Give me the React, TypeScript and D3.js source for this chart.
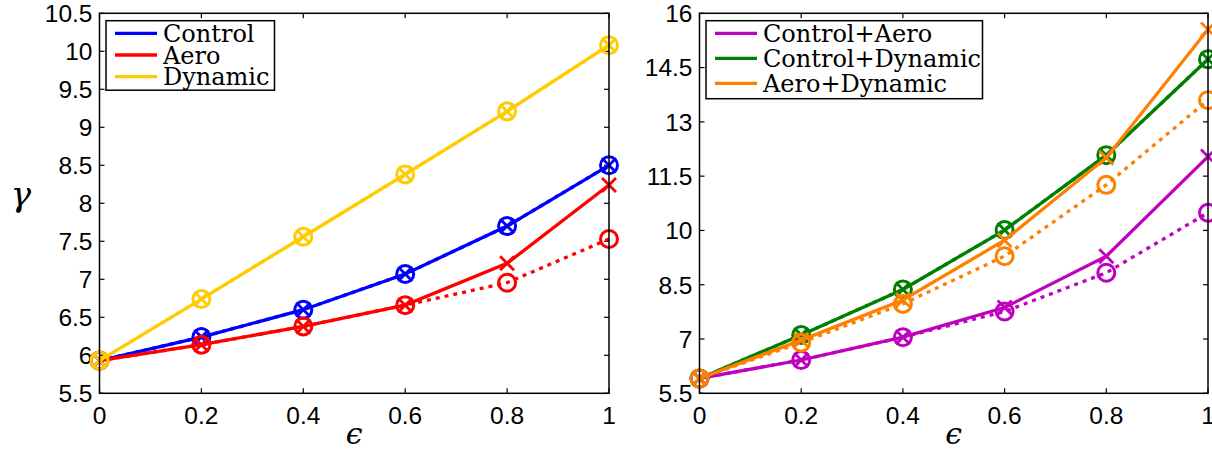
import React from "react";
import * as d3 from "d3";

// Shared x positions (epsilon)
const eps = [0, 0.2, 0.4, 0.6, 0.8, 1];

// Left panel: single effects
const controlVals = [5.93, 6.24, 6.6, 7.07, 7.7, 8.5];
const aeroVals = [5.93, 6.14, 6.38, 6.66, 7.21, 8.24];
const aeroDotted = [5.93, 6.14, 6.38, 6.66, 6.955, 7.53];
const dynamicVals = [5.93, 6.74, 7.56, 8.38, 9.21, 10.08];

// Right panel: combined effects
const ctrlAeroVals = [5.91, 6.42, 7.05, 7.87, 9.29, 12.04];
const ctrlAeroDotted = [5.91, 6.42, 7.05, 7.76, 8.83, 10.49];
const ctrlDynVals = [5.91, 7.11, 8.37, 10.01, 12.08, 14.73];
const ctrlDynDotted = [5.91, 7.11, 8.37, 10.01, 12.08, 14.73];
const aeroDynVals = [5.91, 6.97, 8.08, 9.73, 12.01, 15.55];
const aeroDynDotted = [5.91, 6.9, 7.97, 9.29, 11.26, 13.6];

const xTicks = [0, 0.2, 0.4, 0.6, 0.8, 1];
const xTickLabels = ["0", "0.2", "0.4", "0.6", "0.8", "1"];
const leftYTicks = [5.5, 6, 6.5, 7, 7.5, 8, 8.5, 9, 9.5, 10, 10.5];
const rightYTicks = [5.5, 7, 8.5, 10, 11.5, 13, 14.5, 16];

type Series = { name: string; color: string; solid: number[]; dotted: number[] };

const leftSeries: Series[] = [
  { name: "Control", color: "#0000ff", solid: controlVals, dotted: controlVals },
  { name: "Aero", color: "#ff0000", solid: aeroVals, dotted: aeroDotted },
  { name: "Dynamic", color: "#ffcc00", solid: dynamicVals, dotted: dynamicVals },
];

const rightSeries: Series[] = [
  { name: "Control+Aero", color: "#bf00bf", solid: ctrlAeroVals, dotted: ctrlAeroDotted },
  { name: "Control+Dynamic", color: "#008000", solid: ctrlDynVals, dotted: ctrlDynDotted },
  { name: "Aero+Dynamic", color: "#ff8000", solid: aeroDynVals, dotted: aeroDynDotted },
];

const TICK_FONT = "'Liberation Sans', Arial, sans-serif";
const SERIF = "'DejaVu Serif', serif";

type PanelProps = {
  x0: number;
  x1: number;
  y0: number;
  y1: number;
  yDomain: [number, number];
  yTicks: number[];
  series: Series[];
  legend: { x: number; y: number; w: number; h: number; rowH: number; firstY: number };
};

function Panel({ x0, x1, y0, y1, yDomain, yTicks, series, legend }: PanelProps) {
  const xs = d3.scaleLinear().domain([0, 1]).range([x0, x1]);
  const ys = d3.scaleLinear().domain(yDomain).range([y1, y0]);
  const line = d3
    .line<number>()
    .x((_, i) => xs(eps[i]))
    .y((v) => ys(v));
  const tl = 5;
  const r = 8.5;
  const k = 7;
  return (
    <g>
      {/* axes box with inward ticks on all four sides */}
      {xTicks.map((t, i) => (
        <g key={"xt" + i}>
          <line x1={xs(t)} x2={xs(t)} y1={y1} y2={y1 - tl} stroke="#000" strokeWidth={1.2} />
          <line x1={xs(t)} x2={xs(t)} y1={y0} y2={y0 + tl} stroke="#000" strokeWidth={1.2} />
          <text
            x={xs(t)}
            y={y1 + 31}
            textAnchor="middle"
            fontFamily={TICK_FONT}
            fontSize={24.5}
            fill="#000"
          >
            {xTickLabels[i]}
          </text>
        </g>
      ))}
      {yTicks.map((t, i) => (
        <g key={"yt" + i}>
          <line x1={x0} x2={x0 + tl} y1={ys(t)} y2={ys(t)} stroke="#000" strokeWidth={1.2} />
          <line x1={x1} x2={x1 - tl} y1={ys(t)} y2={ys(t)} stroke="#000" strokeWidth={1.2} />
          <text
            x={x0 - 7}
            y={ys(t)}
            dy="0.36em"
            textAnchor="end"
            fontFamily={TICK_FONT}
            fontSize={24.5}
            fill="#000"
          >
            {String(t)}
          </text>
        </g>
      ))}
      {series.map((s, si) => (
        <g key={"s" + si}>
          <path
            d={line(s.dotted) ?? ""}
            fill="none"
            stroke={s.color}
            strokeWidth={3.3}
            strokeDasharray="4,5"
          />
          <path d={line(s.solid) ?? ""} fill="none" stroke={s.color} strokeWidth={3.3} />
          {s.dotted.map((v, i) => (
            <circle
              key={"c" + i}
              cx={xs(eps[i])}
              cy={ys(v)}
              r={r}
              fill="none"
              stroke={s.color}
              strokeWidth={3}
            />
          ))}
          {s.solid.map((v, i) => {
            const cx = xs(eps[i]);
            const cy = ys(v);
            return (
              <path
                key={"x" + i}
                d={`M${cx - k},${cy - k}L${cx + k},${cy + k}M${cx - k},${cy + k}L${cx + k},${cy - k}`}
                stroke={s.color}
                strokeWidth={2.8}
                fill="none"
              />
            );
          })}
        </g>
      ))}
      <rect
        x={x0}
        y={y0}
        width={x1 - x0}
        height={y1 - y0}
        fill="none"
        stroke="#000"
        strokeWidth={1.5}
      />
      <g>
        <rect
          x={legend.x}
          y={legend.y}
          width={legend.w}
          height={legend.h}
          fill="#fff"
          stroke="#000"
          strokeWidth={1.5}
        />
        {series.map((s, si) => {
          const ly = legend.firstY + si * legend.rowH;
          return (
            <g key={"lg" + si}>
              <line
                x1={legend.x + 9}
                x2={legend.x + 51}
                y1={ly}
                y2={ly}
                stroke={s.color}
                strokeWidth={3.3}
              />
              <text
                x={legend.x + 57}
                y={ly + 8.5}
                fontFamily={SERIF}
                fontSize={24}
                fill="#000"
              >
                {s.name}
              </text>
            </g>
          );
        })}
      </g>
      <text
        x={(x0 + x1) / 2}
        y={y1 + 51}
        textAnchor="middle"
        fontFamily={SERIF}
        fontStyle="italic"
        fontSize={30}
        fill="#000"
      >
        ϵ
      </text>
    </g>
  );
}

export default function App() {
  return (
    <svg
      width={1212}
      height={453}
      style={{ position: "absolute", left: 0, top: 0, background: "#fff" }}
    >
      <rect width={1212} height={453} fill="#fff" />
      <Panel
        x0={99.5}
        x1={609}
        y0={13.3}
        y1={393.3}
        yDomain={[5.5, 10.5]}
        yTicks={leftYTicks}
        series={leftSeries}
        legend={{ x: 106, y: 20.7, w: 168.5, h: 69.5, rowH: 21.7, firstY: 33.3 }}
      />
      <Panel
        x0={699.5}
        x1={1208}
        y0={13.3}
        y1={393.3}
        yDomain={[5.5, 16]}
        yTicks={rightYTicks}
        series={rightSeries}
        legend={{ x: 706, y: 20.7, w: 276.5, h: 78, rowH: 25, firstY: 33.3 }}
      />
      <text
        x={21}
        y={206}
        textAnchor="middle"
        fontFamily={SERIF}
        fontStyle="italic"
        fontSize={34}
        fill="#000"
      >
        γ
      </text>
    </svg>
  );
}
